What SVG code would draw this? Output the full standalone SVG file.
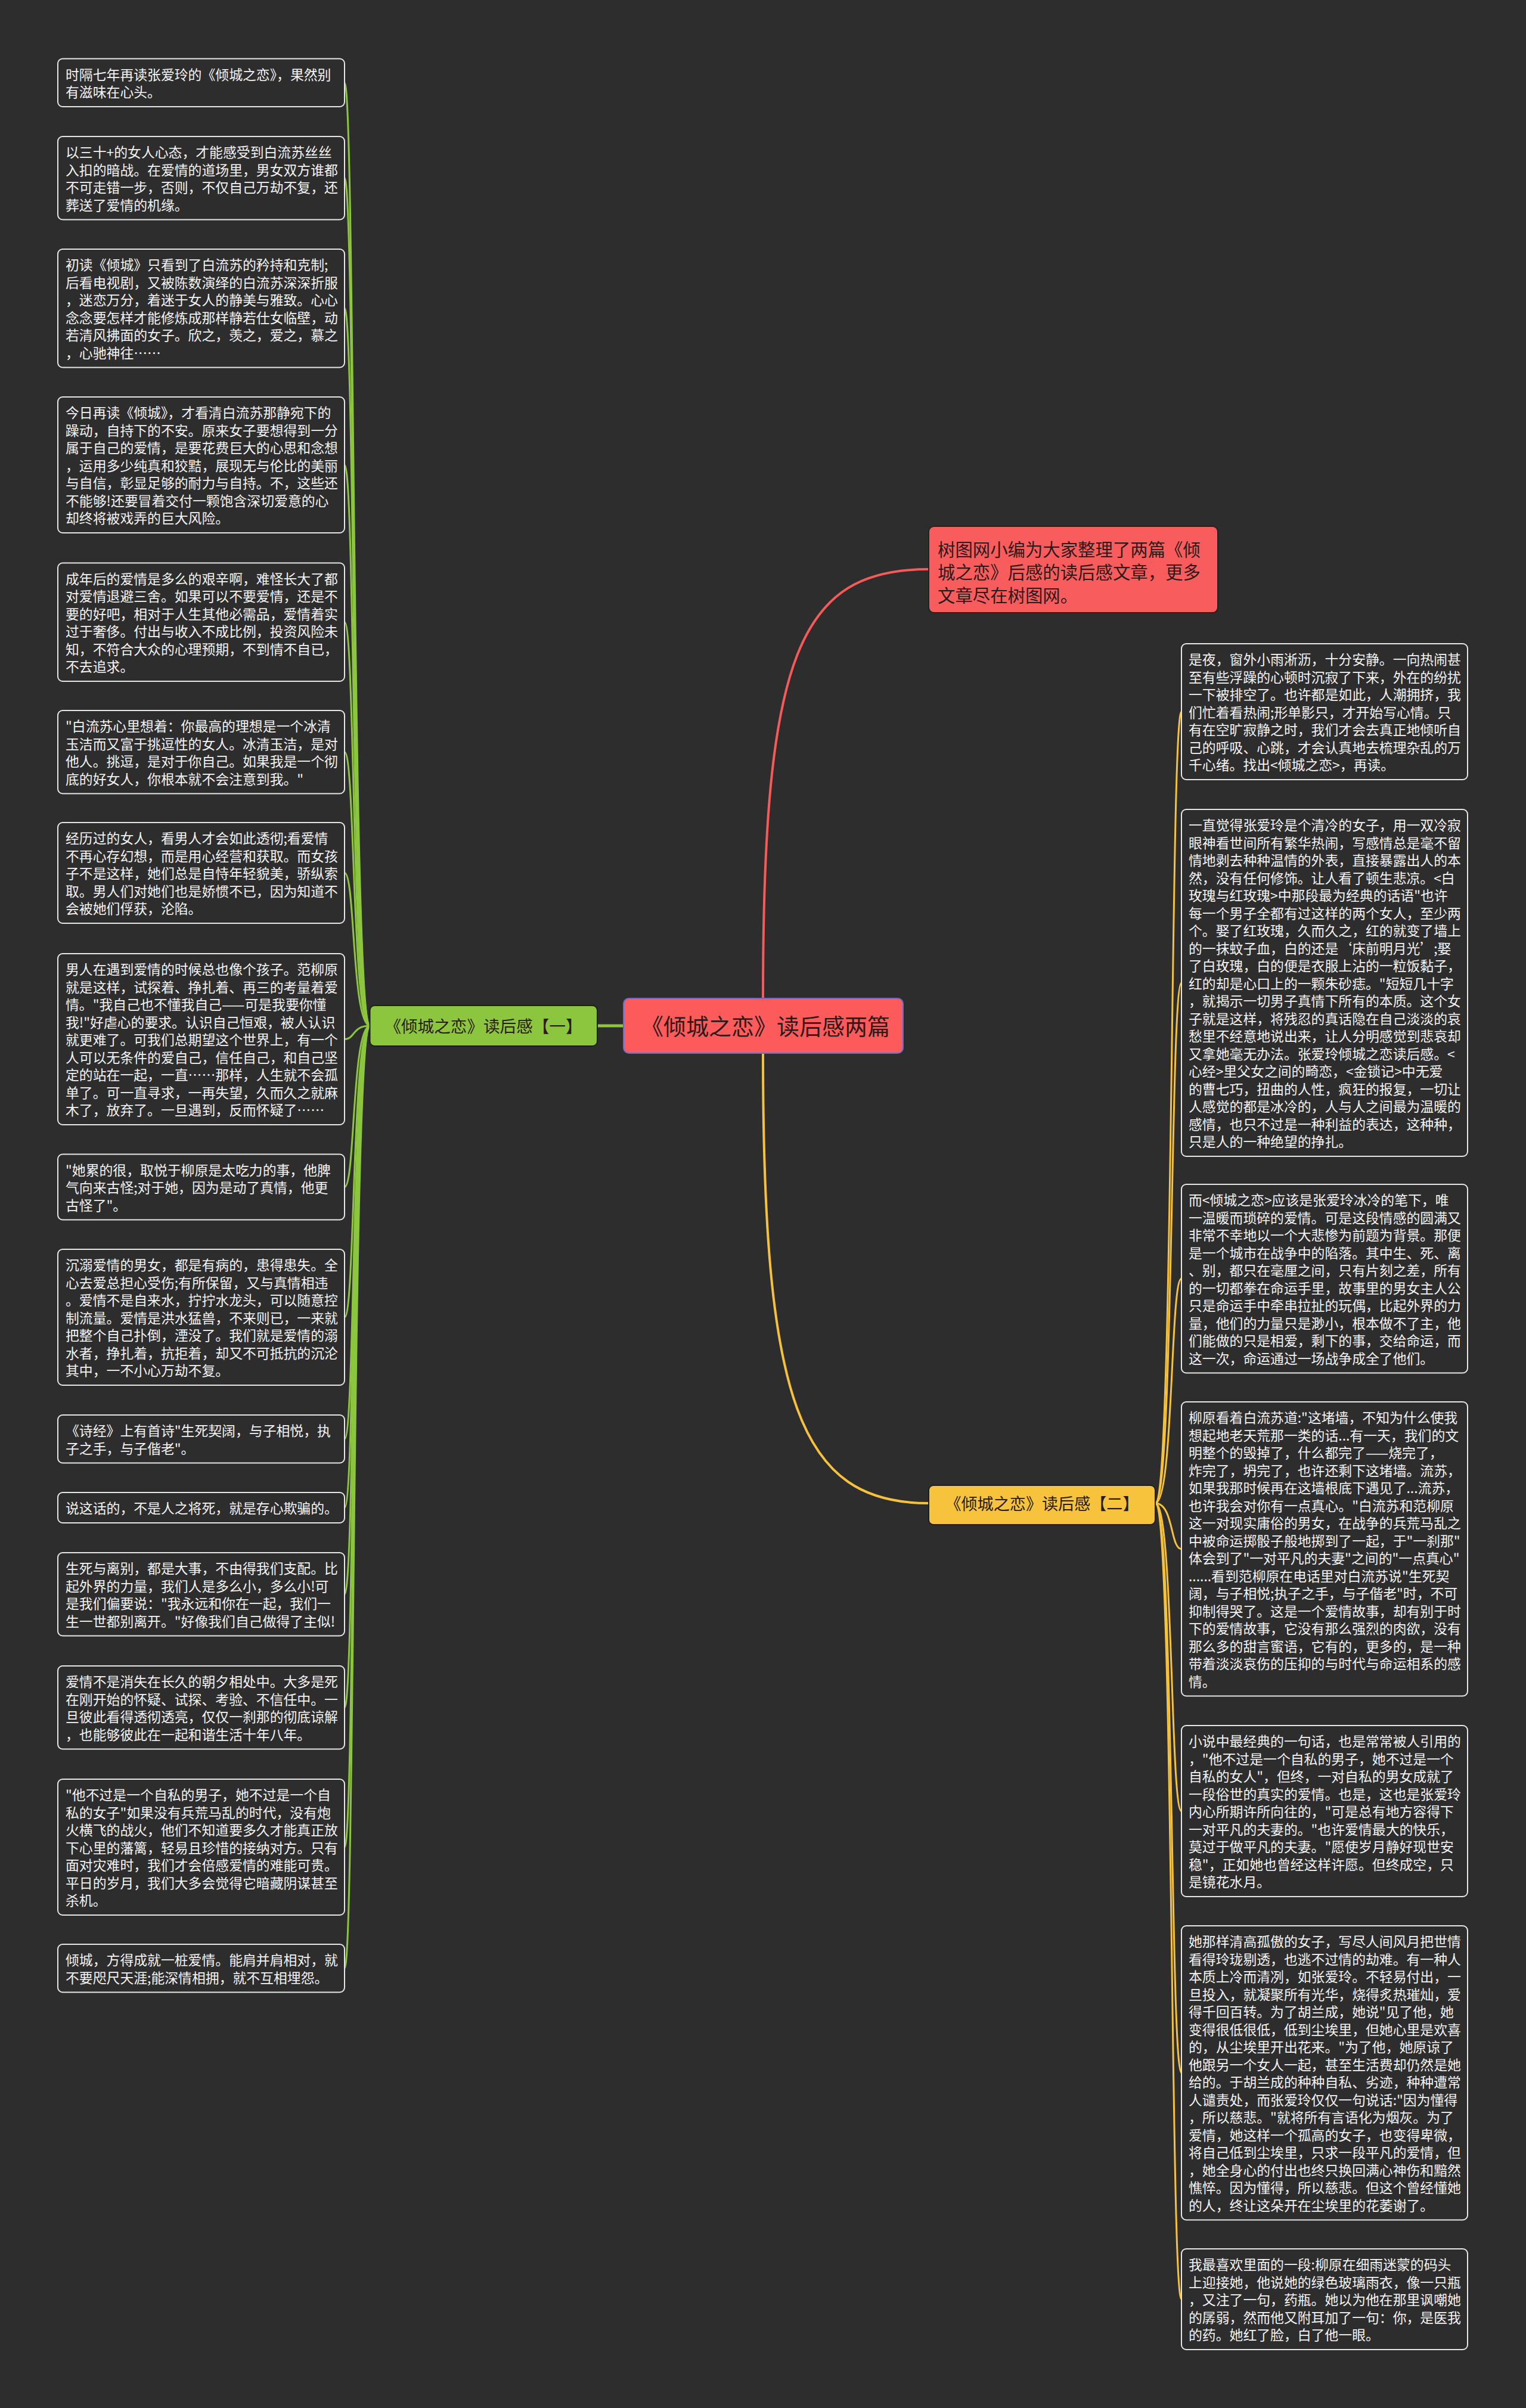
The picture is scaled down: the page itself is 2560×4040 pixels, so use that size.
<svg xmlns="http://www.w3.org/2000/svg" width="2560" height="4040" viewBox="0 0 2560 4040">
<style>
.bg{fill:#2d2d2d}
.leaf{fill:#2d2d2d;stroke:#e6e6e6;stroke-width:2}
.lt{font-family:"Noto Sans CJK SC","Noto Sans",sans-serif;font-size:22.85px;fill:#f4f4f4}
.gc{fill:none;stroke:#8cc63e;stroke-width:3;stroke-linecap:round}
.yc{fill:none;stroke:#f6c23c;stroke-width:3;stroke-linecap:round}
.rc{fill:none;stroke:#f85a5a;stroke-width:4;stroke-linecap:round}
.ct{font-family:"Noto Sans CJK SC","Noto Sans",sans-serif;fill:#2a1a1a}
</style>
<rect class="bg" x="0" y="0" width="2560" height="4040"/>
<g id="connectors">
<path class="rc" d="M1280,1675 C1280,1100 1340,955 1558,955"/>
<path class="yc" d="M1280,1767 C1280,2350 1340,2522 1558,2522" style="stroke-width:4"/>
<path class="gc" d="M1046,1721 L1002,1721" style="stroke-width:5"/>
<path class="gc" d="M621,1721 C590,1721 596,138.75 578,138.75"/>
<path class="gc" d="M621,1721 C590,1721 596,298.75 578,298.75"/>
<path class="gc" d="M621,1721 C590,1721 596,517.25 578,517.25"/>
<path class="gc" d="M621,1721 C590,1721 596,780 578,780"/>
<path class="gc" d="M621,1721 C590,1721 596,1043.75 578,1043.75"/>
<path class="gc" d="M621,1721 C590,1721 596,1261.75 578,1261.75"/>
<path class="gc" d="M621,1721 C590,1721 596,1464.5 578,1464.5"/>
<path class="gc" d="M621,1721 C590,1721 596,1743.5 578,1743.5"/>
<path class="gc" d="M621,1721 C590,1721 596,1991.5 578,1991.5"/>
<path class="gc" d="M621,1721 C590,1721 596,2210 578,2210"/>
<path class="gc" d="M621,1721 C590,1721 596,2414.25 578,2414.25"/>
<path class="gc" d="M621,1721 C590,1721 596,2529.5 578,2529.5"/>
<path class="gc" d="M621,1721 C590,1721 596,2674.75 578,2674.75"/>
<path class="gc" d="M621,1721 C590,1721 596,2864.75 578,2864.75"/>
<path class="gc" d="M621,1721 C590,1721 596,3099 578,3099"/>
<path class="gc" d="M621,1721 C590,1721 596,3302.25 578,3302.25"/>
<path class="yc" d="M1938,2522 C1969,2522 1963,1194 1982,1194"/>
<path class="yc" d="M1938,2522 C1969,2522 1963,1649 1982,1649"/>
<path class="yc" d="M1938,2522 C1969,2522 1963,2145.25 1982,2145.25"/>
<path class="yc" d="M1938,2522 C1969,2522 1963,2598.75 1982,2598.75"/>
<path class="yc" d="M1938,2522 C1969,2522 1963,3038.5 1982,3038.5"/>
<path class="yc" d="M1938,2522 C1969,2522 1963,3477.75 1982,3477.75"/>
<path class="yc" d="M1938,2522 C1969,2522 1963,3857.5 1982,3857.5"/>
</g>
<g id="root">
<rect x="1046" y="1675" width="469" height="92" rx="9" fill="#fd5b5b" stroke="#5d6fd6" stroke-width="2"/>
<text class="ct" x="1284" y="1736" text-anchor="middle" font-size="38">《倾城之恋》读后感两篇</text>
</g>
<g id="intro">
<rect x="1558" y="883" width="485" height="145" rx="9" fill="#f95c5c" stroke="#222" stroke-width="2"/>
<text class="ct" x="1573" y="933" font-size="29.4"><tspan x="1573" dy="0">树图网小编为大家整理了两篇《倾</tspan><tspan x="1573" dy="38.3">城之恋》后感的读后感文章，更多</tspan><tspan x="1573" dy="38.3">文章尽在树图网。</tspan></text>
</g>
<g id="branch1">
<rect x="620.5" y="1687" width="381.5" height="68" rx="8" fill="#8cc63e" stroke="#1e1e1e" stroke-width="2"/>
<text class="ct" x="811" y="1732" text-anchor="middle" font-size="27.6" fill="#222">《倾城之恋》读后感【一】</text>
</g>
<g id="branch2">
<rect x="1558" y="2492" width="380" height="66" rx="8" fill="#f7c33c" stroke="#1e1e1e" stroke-width="2"/>
<text class="ct" x="1748" y="2533" text-anchor="middle" font-size="27.1" fill="#222">《倾城之恋》读后感【二】</text>
</g>
<g id="l1"><rect class="leaf" x="97" y="98.5" width="481" height="80.5" rx="8"/>
<text class="lt" x="110" y="133.5"><tspan x="110" dy="0">时隔七年再读张爱玲的《倾城之恋》，果然别</tspan><tspan x="110" dy="29.5">有滋味在心头。</tspan></text></g>
<g id="l2"><rect class="leaf" x="97" y="229" width="481" height="139.5" rx="8"/>
<text class="lt" x="110" y="264"><tspan x="110" dy="0">以三十+的女人心态，才能感受到白流苏丝丝</tspan><tspan x="110" dy="29.5">入扣的暗战。在爱情的道场里，男女双方谁都</tspan><tspan x="110" dy="29.5">不可走错一步，否则，不仅自己万劫不复，还</tspan><tspan x="110" dy="29.5">葬送了爱情的机缘。</tspan></text></g>
<g id="l3"><rect class="leaf" x="97" y="418" width="481" height="198.5" rx="8"/>
<text class="lt" x="110" y="453"><tspan x="110" dy="0">初读《倾城》只看到了白流苏的矜持和克制;</tspan><tspan x="110" dy="29.5">后看电视剧，又被陈数演绎的白流苏深深折服</tspan><tspan x="110" dy="29.5">，迷恋万分，着迷于女人的静美与雅致。心心</tspan><tspan x="110" dy="29.5">念念要怎样才能修炼成那样静若仕女临壁，动</tspan><tspan x="110" dy="29.5">若清风拂面的女子。欣之，羡之，爱之，慕之</tspan><tspan x="110" dy="29.5">，心驰神往……</tspan></text></g>
<g id="l4"><rect class="leaf" x="97" y="666" width="481" height="228" rx="8"/>
<text class="lt" x="110" y="701"><tspan x="110" dy="0">今日再读《倾城》，才看清白流苏那静宛下的</tspan><tspan x="110" dy="29.5">躁动，自持下的不安。原来女子要想得到一分</tspan><tspan x="110" dy="29.5">属于自己的爱情，是要花费巨大的心思和念想</tspan><tspan x="110" dy="29.5">，运用多少纯真和狡黠，展现无与伦比的美丽</tspan><tspan x="110" dy="29.5">与自信，彰显足够的耐力与自持。不，这些还</tspan><tspan x="110" dy="29.5">不能够!还要冒着交付一颗饱含深切爱意的心</tspan><tspan x="110" dy="29.5">却终将被戏弄的巨大风险。</tspan></text></g>
<g id="l5"><rect class="leaf" x="97" y="944.5" width="481" height="198.5" rx="8"/>
<text class="lt" x="110" y="979.5"><tspan x="110" dy="0">成年后的爱情是多么的艰辛啊，难怪长大了都</tspan><tspan x="110" dy="29.5">对爱情退避三舍。如果可以不要爱情，还是不</tspan><tspan x="110" dy="29.5">要的好吧，相对于人生其他必需品，爱情着实</tspan><tspan x="110" dy="29.5">过于奢侈。付出与收入不成比例，投资风险未</tspan><tspan x="110" dy="29.5">知，不符合大众的心理预期，不到情不自已，</tspan><tspan x="110" dy="29.5">不去追求。</tspan></text></g>
<g id="l6"><rect class="leaf" x="97" y="1192" width="481" height="139.5" rx="8"/>
<text class="lt" x="110" y="1227"><tspan x="110" dy="0">"白流苏心里想着：你最高的理想是一个冰清</tspan><tspan x="110" dy="29.5">玉洁而又富于挑逗性的女人。冰清玉洁，是对</tspan><tspan x="110" dy="29.5">他人。挑逗，是对于你自己。如果我是一个彻</tspan><tspan x="110" dy="29.5">底的好女人，你根本就不会注意到我。"</tspan></text></g>
<g id="l7"><rect class="leaf" x="97" y="1380" width="481" height="169" rx="8"/>
<text class="lt" x="110" y="1415"><tspan x="110" dy="0">经历过的女人，看男人才会如此透彻;看爱情</tspan><tspan x="110" dy="29.5">不再心存幻想，而是用心经营和获取。而女孩</tspan><tspan x="110" dy="29.5">子不是这样，她们总是自恃年轻貌美，骄纵索</tspan><tspan x="110" dy="29.5">取。男人们对她们也是娇惯不已，因为知道不</tspan><tspan x="110" dy="29.5">会被她们俘获，沦陷。</tspan></text></g>
<g id="l8"><rect class="leaf" x="97" y="1600" width="481" height="287" rx="8"/>
<text class="lt" x="110" y="1635"><tspan x="110" dy="0">男人在遇到爱情的时候总也像个孩子。范柳原</tspan><tspan x="110" dy="29.5">就是这样，试探着、挣扎着、再三的考量着爱</tspan><tspan x="110" dy="29.5">情。"我自己也不懂我自己——可是我要你懂</tspan><tspan x="110" dy="29.5">我!"好虐心的要求。认识自己恒艰，被人认识</tspan><tspan x="110" dy="29.5">就更难了。可我们总期望这个世界上，有一个</tspan><tspan x="110" dy="29.5">人可以无条件的爱自己，信任自己，和自己坚</tspan><tspan x="110" dy="29.5">定的站在一起，一直……那样，人生就不会孤</tspan><tspan x="110" dy="29.5">单了。可一直寻求，一再失望，久而久之就麻</tspan><tspan x="110" dy="29.5">木了，放弃了。一旦遇到，反而怀疑了……</tspan></text></g>
<g id="l9"><rect class="leaf" x="97" y="1936.5" width="481" height="110" rx="8"/>
<text class="lt" x="110" y="1971.5"><tspan x="110" dy="0">"她累的很，取悦于柳原是太吃力的事，他脾</tspan><tspan x="110" dy="29.5">气向来古怪;对于她，因为是动了真情，他更</tspan><tspan x="110" dy="29.5">古怪了"。</tspan></text></g>
<g id="l10"><rect class="leaf" x="97" y="2096" width="481" height="228" rx="8"/>
<text class="lt" x="110" y="2131"><tspan x="110" dy="0">沉溺爱情的男女，都是有病的，患得患失。全</tspan><tspan x="110" dy="29.5">心去爱总担心受伤;有所保留，又与真情相违</tspan><tspan x="110" dy="29.5">。爱情不是自来水，拧拧水龙头，可以随意控</tspan><tspan x="110" dy="29.5">制流量。爱情是洪水猛兽，不来则已，一来就</tspan><tspan x="110" dy="29.5">把整个自己扑倒，湮没了。我们就是爱情的溺</tspan><tspan x="110" dy="29.5">水者，挣扎着，抗拒着，却又不可抵抗的沉沦</tspan><tspan x="110" dy="29.5">其中，一不小心万劫不复。</tspan></text></g>
<g id="l11"><rect class="leaf" x="97" y="2374" width="481" height="80.5" rx="8"/>
<text class="lt" x="110" y="2409"><tspan x="110" dy="0">《诗经》上有首诗"生死契阔，与子相悦，执</tspan><tspan x="110" dy="29.5">子之手，与子偕老"。</tspan></text></g>
<g id="l12"><rect class="leaf" x="97" y="2504" width="481" height="51" rx="8"/>
<text class="lt" x="110" y="2539">说这话的，不是人之将死，就是存心欺骗的。</text></g>
<g id="l13"><rect class="leaf" x="97" y="2605" width="481" height="139.5" rx="8"/>
<text class="lt" x="110" y="2640"><tspan x="110" dy="0">生死与离别，都是大事，不由得我们支配。比</tspan><tspan x="110" dy="29.5">起外界的力量，我们人是多么小，多么小!可</tspan><tspan x="110" dy="29.5">是我们偏要说："我永远和你在一起，我们一</tspan><tspan x="110" dy="29.5">生一世都别离开。"好像我们自己做得了主似!</tspan></text></g>
<g id="l14"><rect class="leaf" x="97" y="2795" width="481" height="139.5" rx="8"/>
<text class="lt" x="110" y="2830"><tspan x="110" dy="0">爱情不是消失在长久的朝夕相处中。大多是死</tspan><tspan x="110" dy="29.5">在刚开始的怀疑、试探、考验、不信任中。一</tspan><tspan x="110" dy="29.5">旦彼此看得透彻透亮，仅仅一刹那的彻底谅解</tspan><tspan x="110" dy="29.5">，也能够彼此在一起和谐生活十年八年。</tspan></text></g>
<g id="l15"><rect class="leaf" x="97" y="2985" width="481" height="228" rx="8"/>
<text class="lt" x="110" y="3020"><tspan x="110" dy="0">"他不过是一个自私的男子，她不过是一个自</tspan><tspan x="110" dy="29.5">私的女子"如果没有兵荒马乱的时代，没有炮</tspan><tspan x="110" dy="29.5">火横飞的战火，他们不知道要多久才能真正放</tspan><tspan x="110" dy="29.5">下心里的藩篱，轻易且珍惜的接纳对方。只有</tspan><tspan x="110" dy="29.5">面对灾难时，我们才会倍感爱情的难能可贵。</tspan><tspan x="110" dy="29.5">平日的岁月，我们大多会觉得它暗藏阴谋甚至</tspan><tspan x="110" dy="29.5">杀机。</tspan></text></g>
<g id="l16"><rect class="leaf" x="97" y="3262" width="481" height="80.5" rx="8"/>
<text class="lt" x="110" y="3297"><tspan x="110" dy="0">倾城，方得成就一桩爱情。能肩并肩相对，就</tspan><tspan x="110" dy="29.5">不要咫尺天涯;能深情相拥，就不互相埋怨。</tspan></text></g>
<g id="r1"><rect class="leaf" x="1982" y="1080" width="480" height="228" rx="8"/>
<text class="lt" x="1994" y="1115"><tspan x="1994" dy="0">是夜，窗外小雨淅沥，十分安静。一向热闹甚</tspan><tspan x="1994" dy="29.5">至有些浮躁的心顿时沉寂了下来，外在的纷扰</tspan><tspan x="1994" dy="29.5">一下被排空了。也许都是如此，人潮拥挤，我</tspan><tspan x="1994" dy="29.5">们忙着看热闹;形单影只，才开始写心情。只</tspan><tspan x="1994" dy="29.5">有在空旷寂静之时，我们才会去真正地倾听自</tspan><tspan x="1994" dy="29.5">己的呼吸、心跳，才会认真地去梳理杂乱的万</tspan><tspan x="1994" dy="29.5">千心绪。找出&lt;倾城之恋&gt;，再读。</tspan></text></g>
<g id="r2"><rect class="leaf" x="1982" y="1358" width="480" height="582" rx="8"/>
<text class="lt" x="1994" y="1393"><tspan x="1994" dy="0">一直觉得张爱玲是个清冷的女子，用一双冷寂</tspan><tspan x="1994" dy="29.5">眼神看世间所有繁华热闹，写感情总是毫不留</tspan><tspan x="1994" dy="29.5">情地剥去种种温情的外表，直接暴露出人的本</tspan><tspan x="1994" dy="29.5">然，没有任何修饰。让人看了顿生悲凉。&lt;白</tspan><tspan x="1994" dy="29.5">玫瑰与红玫瑰&gt;中那段最为经典的话语"也许</tspan><tspan x="1994" dy="29.5">每一个男子全都有过这样的两个女人，至少两</tspan><tspan x="1994" dy="29.5">个。娶了红玫瑰，久而久之，红的就变了墙上</tspan><tspan x="1994" dy="29.5">的一抹蚊子血，白的还是‘床前明月光’;娶</tspan><tspan x="1994" dy="29.5">了白玫瑰，白的便是衣服上沾的一粒饭黏子，</tspan><tspan x="1994" dy="29.5">红的却是心口上的一颗朱砂痣。"短短几十字</tspan><tspan x="1994" dy="29.5">，就揭示一切男子真情下所有的本质。这个女</tspan><tspan x="1994" dy="29.5">子就是这样，将残忍的真话隐在自己淡淡的哀</tspan><tspan x="1994" dy="29.5">愁里不经意地说出来，让人分明感觉到悲哀却</tspan><tspan x="1994" dy="29.5">又拿她毫无办法。张爱玲倾城之恋读后感。&lt;</tspan><tspan x="1994" dy="29.5">心经&gt;里父女之间的畸恋，&lt;金锁记&gt;中无爱</tspan><tspan x="1994" dy="29.5">的曹七巧，扭曲的人性，疯狂的报复，一切让</tspan><tspan x="1994" dy="29.5">人感觉的都是冰冷的，人与人之间最为温暖的</tspan><tspan x="1994" dy="29.5">感情，也只不过是一种利益的表达，这种种，</tspan><tspan x="1994" dy="29.5">只是人的一种绝望的挣扎。</tspan></text></g>
<g id="r3"><rect class="leaf" x="1982" y="1987" width="480" height="316.5" rx="8"/>
<text class="lt" x="1994" y="2022"><tspan x="1994" dy="0">而&lt;倾城之恋&gt;应该是张爱玲冰冷的笔下，唯</tspan><tspan x="1994" dy="29.5">一温暖而琐碎的爱情。可是这段情感的圆满又</tspan><tspan x="1994" dy="29.5">非常不幸地以一个大悲惨为前题为背景。那便</tspan><tspan x="1994" dy="29.5">是一个城市在战争中的陷落。其中生、死、离</tspan><tspan x="1994" dy="29.5">、别，都只在毫厘之间，只有片刻之差，所有</tspan><tspan x="1994" dy="29.5">的一切都拳在命运手里，故事里的男女主人公</tspan><tspan x="1994" dy="29.5">只是命运手中牵串拉扯的玩偶，比起外界的力</tspan><tspan x="1994" dy="29.5">量，他们的力量只是渺小，根本做不了主，他</tspan><tspan x="1994" dy="29.5">们能做的只是相爱，剩下的事，交给命运，而</tspan><tspan x="1994" dy="29.5">这一次，命运通过一场战争成全了他们。</tspan></text></g>
<g id="r4"><rect class="leaf" x="1982" y="2352" width="480" height="493.5" rx="8"/>
<text class="lt" x="1994" y="2387"><tspan x="1994" dy="0">柳原看着白流苏道:"这堵墙，不知为什么使我</tspan><tspan x="1994" dy="29.5">想起地老天荒那一类的话...有一天，我们的文</tspan><tspan x="1994" dy="29.5">明整个的毁掉了，什么都完了——烧完了，</tspan><tspan x="1994" dy="29.5">炸完了，坍完了，也许还剩下这堵墙。流苏，</tspan><tspan x="1994" dy="29.5">如果我那时候再在这墙根底下遇见了...流苏，</tspan><tspan x="1994" dy="29.5">也许我会对你有一点真心。"白流苏和范柳原</tspan><tspan x="1994" dy="29.5">这一对现实庸俗的男女，在战争的兵荒马乱之</tspan><tspan x="1994" dy="29.5">中被命运掷骰子般地掷到了一起，于"一刹那"</tspan><tspan x="1994" dy="29.5">体会到了"一对平凡的夫妻"之间的"一点真心"</tspan><tspan x="1994" dy="29.5">......看到范柳原在电话里对白流苏说"生死契</tspan><tspan x="1994" dy="29.5">阔，与子相悦;执子之手，与子偕老"时，不可</tspan><tspan x="1994" dy="29.5">抑制得哭了。这是一个爱情故事，却有别于时</tspan><tspan x="1994" dy="29.5">下的爱情故事，它没有那么强烈的肉欲，没有</tspan><tspan x="1994" dy="29.5">那么多的甜言蜜语，它有的，更多的，是一种</tspan><tspan x="1994" dy="29.5">带着淡淡哀伤的压抑的与时代与命运相系的感</tspan><tspan x="1994" dy="29.5">情。</tspan></text></g>
<g id="r5"><rect class="leaf" x="1982" y="2895" width="480" height="287" rx="8"/>
<text class="lt" x="1994" y="2930"><tspan x="1994" dy="0">小说中最经典的一句话，也是常常被人引用的</tspan><tspan x="1994" dy="29.5">，"他不过是一个自私的男子，她不过是一个</tspan><tspan x="1994" dy="29.5">自私的女人"，但终，一对自私的男女成就了</tspan><tspan x="1994" dy="29.5">一段俗世的真实的爱情。也是，这也是张爱玲</tspan><tspan x="1994" dy="29.5">内心所期许所向往的，"可是总有地方容得下</tspan><tspan x="1994" dy="29.5">一对平凡的夫妻的。"也许爱情最大的快乐，</tspan><tspan x="1994" dy="29.5">莫过于做平凡的夫妻。"愿使岁月静好现世安</tspan><tspan x="1994" dy="29.5">稳"，正如她也曾经这样许愿。但终成空，只</tspan><tspan x="1994" dy="29.5">是镜花水月。</tspan></text></g>
<g id="r6"><rect class="leaf" x="1982" y="3231" width="480" height="493.5" rx="8"/>
<text class="lt" x="1994" y="3266"><tspan x="1994" dy="0">她那样清高孤傲的女子，写尽人间风月把世情</tspan><tspan x="1994" dy="29.5">看得玲珑剔透，也逃不过情的劫难。有一种人</tspan><tspan x="1994" dy="29.5">本质上冷而清冽，如张爱玲。不轻易付出，一</tspan><tspan x="1994" dy="29.5">旦投入，就凝聚所有光华，烧得炙热璀灿，爱</tspan><tspan x="1994" dy="29.5">得千回百转。为了胡兰成，她说"见了他，她</tspan><tspan x="1994" dy="29.5">变得很低很低，低到尘埃里，但她心里是欢喜</tspan><tspan x="1994" dy="29.5">的，从尘埃里开出花来。"为了他，她原谅了</tspan><tspan x="1994" dy="29.5">他跟另一个女人一起，甚至生活费却仍然是她</tspan><tspan x="1994" dy="29.5">给的。于胡兰成的种种自私、劣迹，种种遭常</tspan><tspan x="1994" dy="29.5">人谴责处，而张爱玲仅仅一句说话:"因为懂得</tspan><tspan x="1994" dy="29.5">，所以慈悲。"就将所有言语化为烟灰。为了</tspan><tspan x="1994" dy="29.5">爱情，她这样一个孤高的女子，也变得卑微，</tspan><tspan x="1994" dy="29.5">将自己低到尘埃里，只求一段平凡的爱情，但</tspan><tspan x="1994" dy="29.5">，她全身心的付出也终只换回满心神伤和黯然</tspan><tspan x="1994" dy="29.5">憔悴。因为懂得，所以慈悲。但这个曾经懂她</tspan><tspan x="1994" dy="29.5">的人，终让这朵开在尘埃里的花萎谢了。</tspan></text></g>
<g id="r7"><rect class="leaf" x="1982" y="3773" width="480" height="169" rx="8"/>
<text class="lt" x="1994" y="3808"><tspan x="1994" dy="0">我最喜欢里面的一段:柳原在细雨迷蒙的码头</tspan><tspan x="1994" dy="29.5">上迎接她，他说她的绿色玻璃雨衣，像一只瓶</tspan><tspan x="1994" dy="29.5">，又注了一句，药瓶。她以为他在那里讽嘲她</tspan><tspan x="1994" dy="29.5">的孱弱，然而他又附耳加了一句：你，是医我</tspan><tspan x="1994" dy="29.5">的药。她红了脸，白了他一眼。</tspan></text></g>
</svg>
